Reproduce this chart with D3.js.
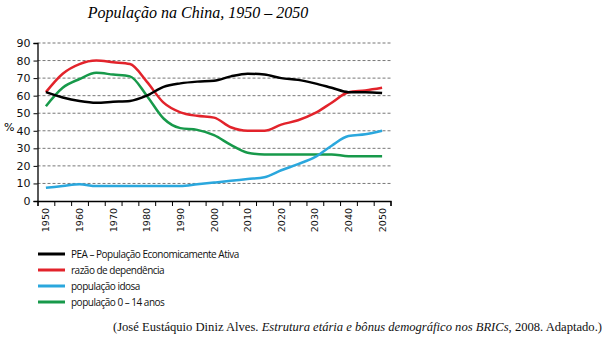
<!DOCTYPE html>
<html>
<head>
<meta charset="utf-8">
<script src="https://d3js.org/d3.v7.min.js"></script>
<style>
  body { margin: 0; background: #fff; }
</style>
</head>
<body>
<div id="chart"></div>
<script>
    // data, one value every 5 years
    var years = d3.range(1950, 2051, 5);
    var pea = [62, 59, 57, 56, 56.5, 57, 60, 65, 67, 68, 68.5, 71, 72.5, 72, 70, 69, 67, 64.5, 62, 62, 61.5];
    var dependencia = [62, 72.5, 78, 80, 79, 78, 68, 56, 50.5, 48.5, 47.5, 42, 40, 40, 43.5, 46, 50, 56, 62, 63, 64.5];
    var idosa = [7.5, 8.5, 9.5, 8.5, 8.5, 8.5, 8.5, 8.5, 8.5, 9.5, 10.5, 11.5, 12.5, 13.5, 17.5, 21, 25, 31.5, 37, 38, 40];
    var jovens = [54, 64.5, 69.5, 73, 72, 71, 60, 47, 41.5, 40.5, 37.5, 32, 27.5, 26.5, 26.5, 26.5, 26.5, 26.5, 25.5, 25.5, 25.5];
    var yTicks = [0, 10, 20, 30, 40, 50, 60, 70, 80, 90];
    var xLabels = [1950, 1960, 1970, 1980, 1990, 2000, 2010, 2020, 2030, 2040, 2050];
    var seriesNames = ["PEA \u2013 População Economicamente Ativa", "razão de dependência", "população idosa", "população 0 \u2013 14 anos"];
    var seriesColors = ["#000000", "#e2232b", "#2aa7dd", "#17994a"];

    var series = [pea, dependencia, idosa, jovens].map(function(vals, i) {
        return { name: seriesNames[i], color: seriesColors[i], values: vals };
    });

    var width = 605, height = 337;
    var svg = d3.select("#chart")
        .append("svg")
        .attr("width", width)
        .attr("height", height);

    // scales
    var x = d3.scaleLinear().domain([1947.5, 2052.5]).range([37.5, 390.5]);
    var y = d3.scaleLinear().domain([0, 90]).range([201, 43]);

    // title
    svg.append("text")
        .attr("x", 198)
        .attr("y", 18)
        .attr("text-anchor", "middle")
        .style("font-family", "'Liberation Serif', 'Times New Roman', serif")
        .style("font-style", "italic")
        .style("font-size", "16px")
        .text("População na China, 1950 \u2013 2050");

    // dashed grid
    svg.append("g")
        .selectAll("line")
        .data(yTicks.filter(function(d) { return d > 0; }))
        .enter()
        .append("line")
        .attr("x1", x.range()[0])
        .attr("x2", x.range()[1])
        .attr("y1", function(d) { return y(d); })
        .attr("y2", function(d) { return y(d); })
        .attr("stroke", "#777")
        .attr("stroke-width", 1)
        .attr("stroke-dasharray", "3,2");

    // y axis
    var yAxis = svg.append("g")
        .attr("transform", "translate(" + x.range()[0] + ",0)")
        .call(d3.axisLeft(y).tickValues(yTicks).tickSize(4).tickPadding(3));
    yAxis.select(".domain").attr("stroke", "#000").attr("stroke-width", 1.3);
    yAxis.selectAll("text")
        .style("font-family", "'DejaVu Sans', sans-serif")
        .style("font-size", "11px")
        .attr("fill", "#111");

    svg.append("text")
        .attr("x", 4)
        .attr("y", 131)
        .style("font-family", "'DejaVu Sans', sans-serif")
        .style("font-size", "11px")
        .text("%");

    // x axis: ticks every 5 years between points, labels every 10 years
    var tickYears = d3.range(1947.5, 2053, 5);
    var xAxis = svg.append("g")
        .attr("transform", "translate(0," + y(0) + ")")
        .call(d3.axisBottom(x).tickValues(tickYears).tickSize(5).tickFormat(""));
    xAxis.select(".domain").attr("stroke", "#000").attr("stroke-width", 1.3);

    svg.append("g")
        .selectAll("text")
        .data(xLabels)
        .enter()
        .append("text")
        .attr("transform", function(d) {
            return "translate(" + (x(d) + 3.5) + "," + (y(0) + 7) + ") rotate(-90)";
        })
        .attr("text-anchor", "end")
        .style("font-family", "'DejaVu Sans', sans-serif")
        .style("font-size", "9.5px")
        .attr("fill", "#111")
        .text(function(d) { return d; });

    // lines
    var line = d3.line()
        .x(function(d, i) { return x(years[i]); })
        .y(function(d) { return y(d); })
        .curve(d3.curveMonotoneX);

    svg.append("g")
        .selectAll("path")
        .data(series.slice().reverse())
        .enter()
        .append("path")
        .attr("d", function(d) { return line(d.values); })
        .attr("fill", "none")
        .attr("stroke", function(d) { return d.color; })
        .attr("stroke-width", 2.5);

    // legend
    var legend = svg.append("g")
        .selectAll("g")
        .data(series)
        .enter()
        .append("g")
        .attr("transform", function(d, i) { return "translate(38," + (254 + i * 16) + ")"; });

    legend.append("line")
        .attr("x1", 0)
        .attr("x2", 27)
        .attr("stroke", function(d) { return d.color; })
        .attr("stroke-width", 3);

    legend.append("text")
        .attr("x", 33)
        .attr("y", 4)
        .style("font-family", "'Open Sans', sans-serif")
        .style("font-size", "10px")
        .style("letter-spacing", "-0.5px")
        .attr("fill", "#111")
        .text(function(d) { return d.name; });

    // source
    var src = svg.append("text")
        .attr("x", 602)
        .attr("y", 331)
        .attr("text-anchor", "end")
        .style("font-family", "'Liberation Serif', 'Times New Roman', serif")
        .style("font-size", "12.6px")
        .attr("fill", "#111");
    src.append("tspan").text("(José Eustáquio Diniz Alves. ");
    src.append("tspan").style("font-style", "italic").text("Estrutura etária e bônus demográfico nos BRICs");
    src.append("tspan").text(", 2008. Adaptado.)");
</script>
</body>
</html>
